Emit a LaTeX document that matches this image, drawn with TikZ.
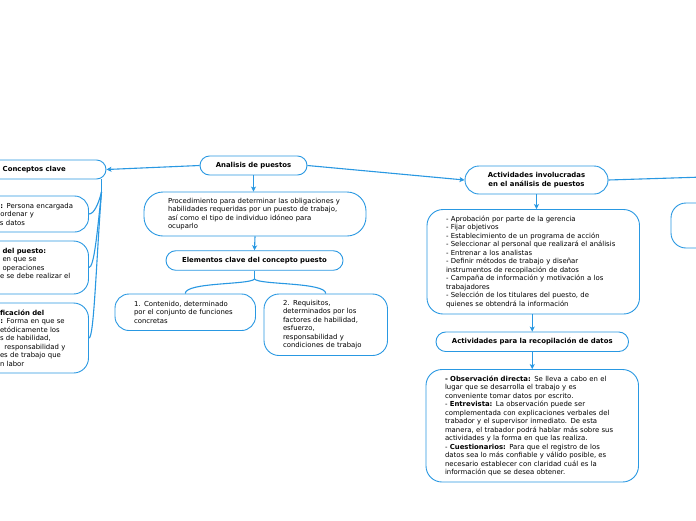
\documentclass[tikz,border=0pt]{standalone}
\usepackage{fontspec}
\setmainfont{DejaVu Sans}
\usetikzlibrary{arrows.meta}
\definecolor{mblue}{RGB}{41,152,226}
\newcommand\Lx[1]{\makebox[0pt][l]{#1}}
\begin{document}
\begin{tikzpicture}[x=1pt,y=-1pt,
  box/.style={draw=mblue, line width=0.9pt, fill=white, inner sep=0pt, text=black,
              font=\fontsize{6.9}{8.5}\selectfont},
  pill/.style={box, align=center},
  txt/.style={box, align=left},
  conn/.style={draw=mblue, line width=1.1pt, -{Stealth[length=5pt,width=5pt,inset=1.2pt]}},
  plain/.style={draw=mblue, line width=1.1pt}]
\fill[white] (0,0) rectangle (696,520);
\useasboundingbox (0,0) rectangle (696,520);

% centre column
\node[pill, rounded corners=9.5pt, minimum width=107pt, minimum height=19pt] (an) at (253.5,165.5) {\textbf{Analisis de puestos}};
\node[txt, rounded corners=19pt, minimum width=222pt, minimum height=44pt, text width=174pt, inner xsep=24pt] (proc) at (255,214)
 {\Lx{Procedimiento para determinar las obligaciones y}\\
  \Lx{habilidades requeridas por un puesto de trabajo,}\\
  \Lx{así como el tipo de individuo idóneo para}\\
  \Lx{ocuparlo}};
\node[pill, rounded corners=9.7pt, minimum width=177pt, minimum height=19.5pt] (el) at (254.5,260.5) {\textbf{Elementos clave del concepto puesto}};
\node[txt, rounded corners=14pt, minimum width=140.5pt, minimum height=36.5pt, text width=102.5pt, inner xsep=19pt] (c1) at (185.25,312.25)
 {\Lx{1. Contenido, determinado}\\
  \Lx{por el conjunto de funciones}\\
  \Lx{concretas}};
\node[txt, rounded corners=15pt, minimum width=123.5pt, minimum height=61.5pt, text width=85.5pt, inner xsep=19pt] (c2) at (325.75,324.75)
 {\Lx{2. Requisitos,}\\
  \Lx{determinados por los}\\
  \Lx{factores de habilidad,}\\
  \Lx{esfuerzo,}\\
  \Lx{responsabilidad y}\\
  \Lx{condiciones de trabajo}};

% right column
\node[pill, rounded corners=14pt, minimum width=143pt, minimum height=28pt] (act) at (536.5,180)
 {\textbf{Actividades involucradas}\\\textbf{en el análisis de puestos}};
\node[txt, rounded corners=16pt, minimum width=212.5pt, minimum height=104.5pt, text width=174.5pt, inner xsep=19pt] (lst) at (533.25,261.75)
 {\Lx{- Aprobación por parte de la gerencia}\\
  \Lx{- Fijar objetivos}\\
  \Lx{- Establecimiento de un programa de acción}\\
  \Lx{- Seleccionar al personal que realizará el análisis}\\
  \Lx{- Entrenar a los analistas}\\
  \Lx{- Definir métodos de trabajo y diseñar}\\
  \Lx{instrumentos de recopilación de datos}\\
  \Lx{- Campaña de información y motivación a los}\\
  \Lx{trabajadores}\\
  \Lx{- Selección de los titulares del puesto, de}\\
  \Lx{quienes se obtendrá la información}};
\node[pill, rounded corners=9.7pt, minimum width=192.5pt, minimum height=19.5pt] (rec) at (532.25,341.75) {\textbf{Actividades para la recopilación de datos}};
\node[txt, rounded corners=16pt, minimum width=212.5pt, minimum height=112.5pt, text width=174.5pt, inner xsep=19pt] (obs) at (532.25,425.75)
 {\Lx{\textbf{- Observación directa:} Se lleva a cabo en el}\\
  \Lx{lugar que se desarrolla el trabajo y es}\\
  \Lx{conveniente tomar datos por escrito.}\\
  \Lx{- \textbf{Entrevista:} La observación puede ser}\\
  \Lx{complementada con explicaciones verbales del}\\
  \Lx{trabador y el supervisor inmediato. De esta}\\
  \Lx{manera, el trabador podrá hablar más sobre sus}\\
  \Lx{actividades y la forma en que las realiza.}\\
  \Lx{- \textbf{Cuestionarios:} Para que el registro de los}\\
  \Lx{datos sea lo más confiable y válido posible, es}\\
  \Lx{necesario establecer con claridad cuál es la}\\
  \Lx{información que se desea obtener.}};
\node[box, rounded corners=15pt, minimum width=98pt, minimum height=45pt] (fr) at (720,225.5) {};
\coordinate (offR) at (720,176.5);

% left column (cut by the frame)
\node[txt, rounded corners=9.5pt, minimum width=186.6pt, minimum height=19pt, text width=20pt, inner xsep=83.3pt] (cc) at (12.7,169.5)
 {\Lx{\textbf{Conceptos clave}}};
\node[txt, rounded corners=14pt, minimum width=157pt, minimum height=36pt, text width=20pt, inner xsep=68.5pt] (l2) at (10,214)
 {\Lx{\hspace*{0.5pt}\textbf{:} Persona encargada}\\
  \Lx{\hspace*{0.5pt}ordenar y}\\
  \Lx{s datos}};
\node[txt, rounded corners=15pt, minimum width=157pt, minimum height=53pt, text width=20pt, inner xsep=68.5pt] (l3) at (10,267.5)
 {\Lx{\hspace*{2.5pt}\textbf{del puesto:}}\\
  \Lx{\hspace*{2.5pt}en que se}\\
  \Lx{\hspace*{2.5pt}operaciones}\\
  \Lx{e se debe realizar el}\rule[-8.6pt]{0pt}{1pt}};
\node[txt, rounded corners=15pt, minimum width=157pt, minimum height=70pt, text width=20pt, inner xsep=68.5pt] (l4) at (10,338)
 {\Lx{\textbf{ficación del}}\\
  \Lx{\hspace*{0.5pt}\textbf{:} Forma en que se}\\
  \Lx{etódicamente los}\\
  \Lx{s de habilidad,}\\
  \Lx{\hspace*{4.5pt}responsabilidad y}\\
  \Lx{es de trabajo que}\\
  \Lx{n labor}};

% connectors
\draw[conn] (an.west) -- (cc.east);
\draw[conn] (an.east) -- (act.west);
\draw[conn] (an.south) -- (an.south |- proc.north);
\draw[conn] (proc.south) -- (el.north);
\draw[conn] (act.south) -- (act.south |- lst.north);
\draw[conn] (lst.south -| rec.north) -- (rec.north);
\draw[conn] (rec.south) -- (obs.north);
\draw[plain] (act.east) -- (offR);

\coordinate (elj) at (254.5,279);
\draw[plain] (el.south) -- (elj);
\draw[plain] (elj) .. controls (250,285) and (185.25,282) .. (c1.north);
\draw[plain] (elj) .. controls (259,285) and (325.75,282) .. (c2.north);

\coordinate (ccj) at (101.5,192);
\draw[plain] (ccj |- cc.south) -- (ccj);
\draw[plain] (ccj) .. controls (98.5,204) and (94,214) .. (l2.east);
\draw[plain] (ccj) .. controls (97,235) and (94,267.5) .. (l3.east);
\draw[plain] (ccj) .. controls (96,265) and (94,338) .. (l4.east);
\end{tikzpicture}
\end{document}
